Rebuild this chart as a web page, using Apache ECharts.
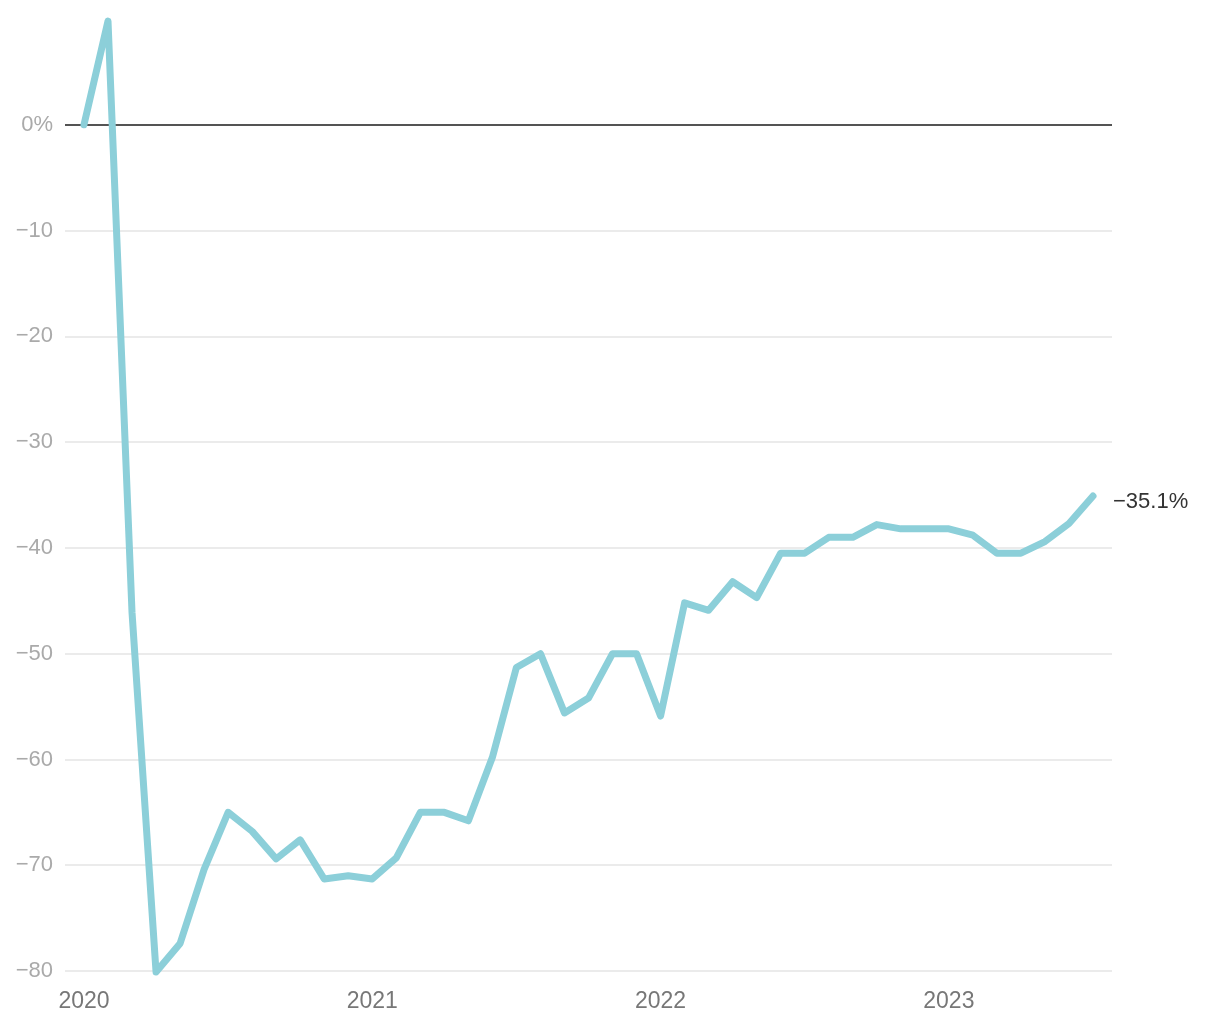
<!DOCTYPE html>
<html>
<head>
<meta charset="utf-8">
<script src="https://cdn.jsdelivr.net/npm/echarts@6/dist/echarts.min.js"></script>
<style>
  html, body { margin: 0; padding: 0; background: #fff; }
  #chart { width: 1220px; height: 1020px; }
</style>
</head>
<body>
<div id="chart"></div>
<script>
// Monthly, Jan 2020 .. Jul 2023 (month index 0..42)
const months = [
  '2020-01','2020-02','2020-03','2020-04','2020-05','2020-06','2020-07','2020-08','2020-09','2020-10','2020-11','2020-12',
  '2021-01','2021-02','2021-03','2021-04','2021-05','2021-06','2021-07','2021-08','2021-09','2021-10','2021-11','2021-12',
  '2022-01','2022-02','2022-03','2022-04','2022-05','2022-06','2022-07','2022-08','2022-09','2022-10','2022-11','2022-12',
  '2023-01','2023-02','2023-03','2023-04','2023-05','2023-06','2023-07'
];
const values = [
  0, 9.8, -46.1, -80.1, -77.4, -70.4, -65.0, -66.8, -69.4, -67.6, -71.3, -71.0,
  -71.3, -69.3, -65.0, -65.0, -65.8, -59.8, -51.3, -50.0, -55.6, -54.2, -50.0, -50.0,
  -55.9, -45.2, -45.9, -43.2, -44.7, -40.5, -40.5, -39.0, -39.0, -37.8, -38.2, -38.2,
  -38.2, -38.8, -40.5, -40.5, -39.4, -37.7, -35.1
];
const yearTicks = [0, 12, 24, 36];
const yearLabels = ['2020', '2021', '2022', '2023'];
const yTicks = [-80, -70, -60, -50, -40, -30, -20, -10, 0];
const endLabelText = '\u221235.1%';

const FONT = '"Liberation Sans", Arial, sans-serif';
const chart = echarts.init(document.getElementById('chart'));
const data = values.map((v, i) => [i, v]);

chart.setOption({
  animation: false,
  backgroundColor: '#fff',
  grid: { left: 65, right: 108, top: 19, bottom: 49, containLabel: false },
  xAxis: {
    type: 'value',
    min: -0.79,
    max: months.length - 1 + 0.79,
    axisLine: { show: false },
    axisTick: { show: false },
    splitLine: { show: false },
    axisLabel: {
      customValues: yearTicks,
      formatter: v => yearLabels[yearTicks.indexOf(Math.round(v))] || '',
      color: '#777',
      fontSize: 23,
      fontFamily: FONT,
      margin: 19
    }
  },
  yAxis: {
    type: 'value',
    min: -80,
    max: 10,
    interval: 10,
    axisLine: { show: false },
    axisTick: { show: false },
    splitLine: { show: true, showMaxLine: false, lineStyle: { color: '#e4e4e4', width: 1.5 } },
    axisLabel: {
      customValues: yTicks,
      formatter: v => v === 0 ? '0%' : (v < 0 ? '\u2212' + Math.abs(v) : ''),
      color: '#aaa',
      fontSize: 22,
      fontFamily: FONT,
      margin: 12,
      padding: [5, 0, 0, 0]
    }
  },
  series: [{
    type: 'line',
    data: data,
    showSymbol: false,
    clip: false,
    lineStyle: { color: '#8ccfd9', width: 7, cap: 'round', join: 'round' },
    itemStyle: { color: '#8ccfd9' },
    endLabel: {
      show: true,
      formatter: () => endLabelText,
      color: '#333',
      fontSize: 22,
      fontFamily: FONT,
      distance: 20,
      offset: [0, 6]
    },
    markLine: {
      silent: true,
      symbol: 'none',
      label: { show: false },
      lineStyle: { color: '#222', width: 1.5, type: 'solid' },
      data: [{ yAxis: 0 }],
      z: 1
    },
    z: 5
  }]
});
</script>
</body>
</html>
